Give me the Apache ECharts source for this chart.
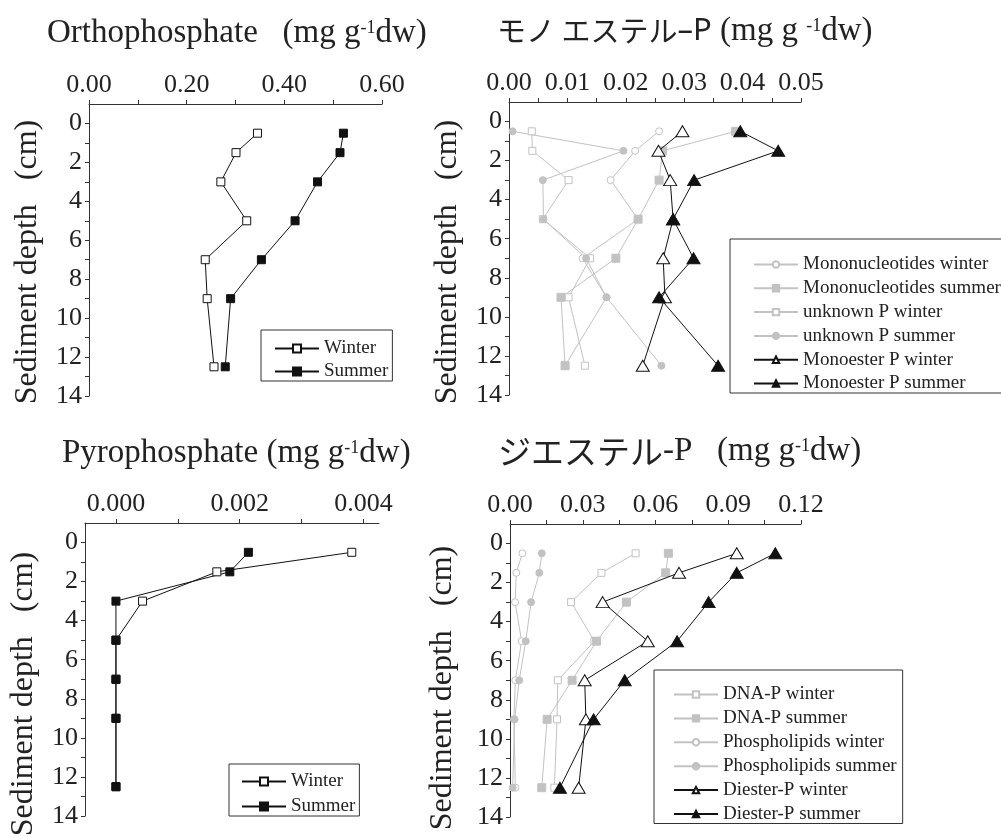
<!DOCTYPE html>
<html>
<head>
<meta charset="utf-8">
<script src="https://cdn.jsdelivr.net/npm/echarts@6/dist/echarts.min.js"></script>
<style>
html,body{margin:0;padding:0;background:#fff;}
#chart{width:1001px;height:836px;}
</style>
</head>
<body>
<div id="chart"></div>
<script>
// ---------- data ----------
const depths = [0.5, 1.5, 3, 5, 7, 9, 12.5];

// Orthophosphate (mg g-1 dw)
const orthoWinter = [0.345, 0.301, 0.270, 0.323, 0.238, 0.242, 0.256];
const orthoSummer = [0.521, 0.514, 0.468, 0.422, 0.353, 0.290, 0.279];

// Monoester panel
const monoNucWinter = [0.0257, 0.0216, 0.0174, 0.0221, 0.0126, 0.0167, 0.0096];
const monoNucSummer = [0.0388, 0.0263, 0.0257, 0.0221, 0.0183, 0.0089, 0.0096];
const unknownWinter = [0.0039, 0.0040, 0.0102, 0.0058, 0.0139, 0.0102, 0.0130];
const unknownSummer = [0.0006, 0.0196, 0.0058, 0.0059, 0.0132, 0.0167, 0.0261];
const monoesterWinter = [0.0297, 0.0256, 0.0276, 0.0281, 0.0264, 0.0267, 0.0229];
const monoesterSummer = [0.0396, 0.0461, 0.0317, 0.0281, 0.0316, 0.0257, 0.0358];

// Pyrophosphate
const pyroWinter = [0.00381, 0.00163, 0.00043, 0.0, 0.0, 0.0, 0.0];
const pyroSummer = [0.00214, 0.00184, 0.0, 0.0, 0.0, 0.0, 0.0];

// Diester panel
const dnaWinter = [0.0518, 0.0377, 0.0252, 0.0348, 0.0197, 0.0194, 0.0183];
const dnaSummer = [0.0653, 0.0642, 0.0480, 0.0357, 0.0256, 0.0153, 0.0131];
const phosWinter = [0.0051, 0.0026, 0.0021, 0.0048, 0.0022, 0.0016, 0.0022];
const phosSummer = [0.0131, 0.0121, 0.0087, 0.0065, 0.0038, 0.0019, 0.0011];
const diesterWinter = [0.0935, 0.0697, 0.0382, 0.0568, 0.0308, 0.0313, 0.0283];
const diesterSummer = [0.1094, 0.0935, 0.0819, 0.0689, 0.0473, 0.0345, 0.0206];

// tick values
const yTicks = [0,1,2,3,4,5,6,7,8,9,10,11,12,13,14];
const yLabels = [0,2,4,6,8,10,12,14];
const x1Ticks = [0,0.1,0.2,0.3,0.4,0.5,0.6];
const x1Labels = [0,0.2,0.4,0.6];
const x2Ticks = [0,0.005,0.01,0.015,0.02,0.025,0.03,0.035,0.04,0.045,0.05];
const x2Labels = [0,0.01,0.02,0.03,0.04,0.05];
const x3Ticks = [0,0.001,0.002,0.003,0.004];
const x3Labels = [0,0.002,0.004];
const x4Ticks = [0,0.015,0.03,0.045,0.06,0.075,0.09,0.105,0.12];
const x4Labels = [0,0.03,0.06,0.09,0.12];

// ---------- style ----------
const SERIF = "'Liberation Serif','Times New Roman',serif";
const CJK = "'Noto Sans CJK JP','Noto Sans',sans-serif";
const BLACK = '#111';
const GREY = '#c2c2c2';
const AX = '#333';

const grids = [
  {left: 89, top: 104, width: 293, height: 292},
  {left: 509, top: 102, width: 292, height: 293},
  {left: 85, top: 523, width: 294, height: 293},
  {left: 510, top: 524, width: 291, height: 293}
];
const xRanges = [[0,0.6],[0,0.05],[-0.0005,0.00425],[0,0.12]];
const xTicks = [x1Ticks, x2Ticks, x3Ticks, x4Ticks];
const xLabs = [x1Labels, x2Labels, x3Labels, x4Labels];
const xDec = [2,2,3,2];

const xAxes = grids.map((g,i)=>({
  type:'value', gridIndex:i, position:'top', min:xRanges[i][0], max:xRanges[i][1],
  axisLine:{show:true, onZero:false, lineStyle:{color:AX, width:1}},
  axisTick:{show:true, inside:false, length:4, customValues:xTicks[i], lineStyle:{color:AX}},
  axisLabel:{show:true, customValues:xLabs[i], margin:6, fontFamily:SERIF, fontSize:26, color:'#222',
    formatter:(v)=>Number(v).toFixed(xDec[i])},
  splitLine:{show:false}
}));
const yAxes = grids.map((g,i)=>({
  type:'value', gridIndex:i, inverse:true, min:-1, max:14,
  axisLine:{show:true, onZero:false, lineStyle:{color:AX, width:1}},
  axisTick:{show:true, inside:false, length:4, customValues:yTicks, lineStyle:{color:AX}},
  axisLabel:{show:true, customValues:yLabels, margin:7, fontFamily:SERIF, fontSize:26, color:'#222'},
  splitLine:{show:false}
}));

function mk(name, vals, gi, sym, filled, color, size){
  return {
    type:'line', name:name, xAxisIndex:gi, yAxisIndex:gi,
    data: vals.map((v,k)=>[v, depths[k]]),
    symbol:sym, symbolSize:size, showSymbol:true, showAllSymbol:true,
    lineStyle:{color:color, width:1},
    itemStyle:{color: filled ? color : '#fff', borderColor:color, borderWidth:1},
    emphasis:{disabled:true},
    z: color===BLACK ? 3 : 2,
    animation:false
  };
}
const TRI = [13, 11];
const series = [
  mk('Winter', orthoWinter, 0, 'rect', false, BLACK, 8),
  mk('Summer', orthoSummer, 0, 'rect', true, BLACK, 8),

  mk('Mononucleotides winter', monoNucWinter, 1, 'circle', false, GREY, 7),
  mk('unknown P winter', unknownWinter, 1, 'rect', false, GREY, 7),
  mk('unknown P summer', unknownSummer, 1, 'circle', true, GREY, 7),
  mk('Mononucleotides summer', monoNucSummer, 1, 'rect', true, GREY, 8),
  mk('Monoester P winter', monoesterWinter, 1, 'triangle', false, BLACK, TRI),
  mk('Monoester P summer', monoesterSummer, 1, 'triangle', true, BLACK, TRI),

  mk('Winter', pyroWinter, 2, 'rect', false, BLACK, 8),
  mk('Summer', pyroSummer, 2, 'rect', true, BLACK, 8),

  mk('Phospholipids winter', phosWinter, 3, 'circle', false, GREY, 7),
  mk('Phospholipids summer', phosSummer, 3, 'circle', true, GREY, 7),
  mk('DNA-P winter', dnaWinter, 3, 'rect', false, GREY, 7),
  mk('DNA-P summer', dnaSummer, 3, 'rect', true, GREY, 8),
  mk('Diester-P winter', diesterWinter, 3, 'triangle', false, BLACK, TRI),
  mk('Diester-P summer', diesterSummer, 3, 'triangle', true, BLACK, TRI)
];

function legend(names, left, top, pad, itemH, gap){
  return {
    data:names, orient:'vertical', left:left, top:top,
    itemWidth:44, itemHeight:itemH, itemGap:gap, padding:pad,
    borderColor:'#333', borderWidth:1, borderRadius:0, backgroundColor:'#fff',
    selectedMode:false, inactiveColor:'#999',
    textStyle:{fontFamily:SERIF, fontSize:19, color:'#222'}
  };
}
const legends = [
  legend(['Winter','Summer'], 261, 330, [9,4,0,13], 10, 4),
  legend(['Mononucleotides winter','Mononucleotides summer','unknown P winter','unknown P summer','Monoester P winter','Monoester P summer'], 730, 239, [16,1,0,23], 8, 4.8),
  legend(['Winter','Summer'], 229, 764, [8,4,0,12], 10, 6),
  legend(['DNA-P winter','DNA-P summer','Phospholipids winter','Phospholipids summer','Diester-P winter','Diester-P summer'], 654, 670, [15,6,0,19], 8, 4.9)
];

const rich = {
  a:{fontFamily:SERIF, fontSize:33, fontWeight:'normal', color:'#222', lineHeight:36},
  s:{fontFamily:SERIF, fontSize:18, fontWeight:'normal', color:'#222', lineHeight:18, verticalAlign:'top', padding:[4,0,0,0]},
  j:{fontFamily:CJK, fontSize:29, fontWeight:'normal', color:'#222', lineHeight:36},
  k:{fontFamily:CJK, fontSize:33, fontWeight:'normal', color:'#222', lineHeight:36},
  p:{fontFamily:"'Noto Sans',sans-serif", fontSize:31, fontWeight:'normal', color:'#222', lineHeight:36}
};
function title(text, left, top){
  return {text:text, left:left, top:top, padding:0, textStyle:{fontWeight:'normal', rich:rich}};
}
const titles = [
  title('{a|Orthophosphate   (mg g}{s|-1}{a|dw)}', 47, 15),
  title('{j|モノ エステル}{p|–P}{a| (mg g }{s|-1}{a|dw)}', 497, 13),
  title('{a|Pyrophosphate (mg g}{s|-1}{a|dw)}', 62, 435),
  title('{k|ジエステル}{a|-P   (mg g}{s|-1}{a|dw)}', 498, 433)
];

function yName(x, y){
  return {type:'text', x:x, y:y, rotation:Math.PI/2, silent:true,
    style:{text:'Sediment depth   (cm)', x:0, y:0, align:'center', verticalAlign:'middle',
      fontFamily:SERIF, fontSize:32, fill:'#222'}};
}

const chart = echarts.init(document.getElementById('chart'), null, {renderer:'canvas'});
chart.setOption({
  animation:false,
  backgroundColor:'#fff',
  title: titles,
  legend: legends,
  grid: grids.map(g=>Object.assign({outerBoundsMode:'none', containLabel:false}, g)),
  xAxis: xAxes,
  yAxis: yAxes,
  series: series,
  graphic: [yName(28,262), yName(448,262), yName(24,694), yName(443,688)]
});
</script>
</body>
</html>
